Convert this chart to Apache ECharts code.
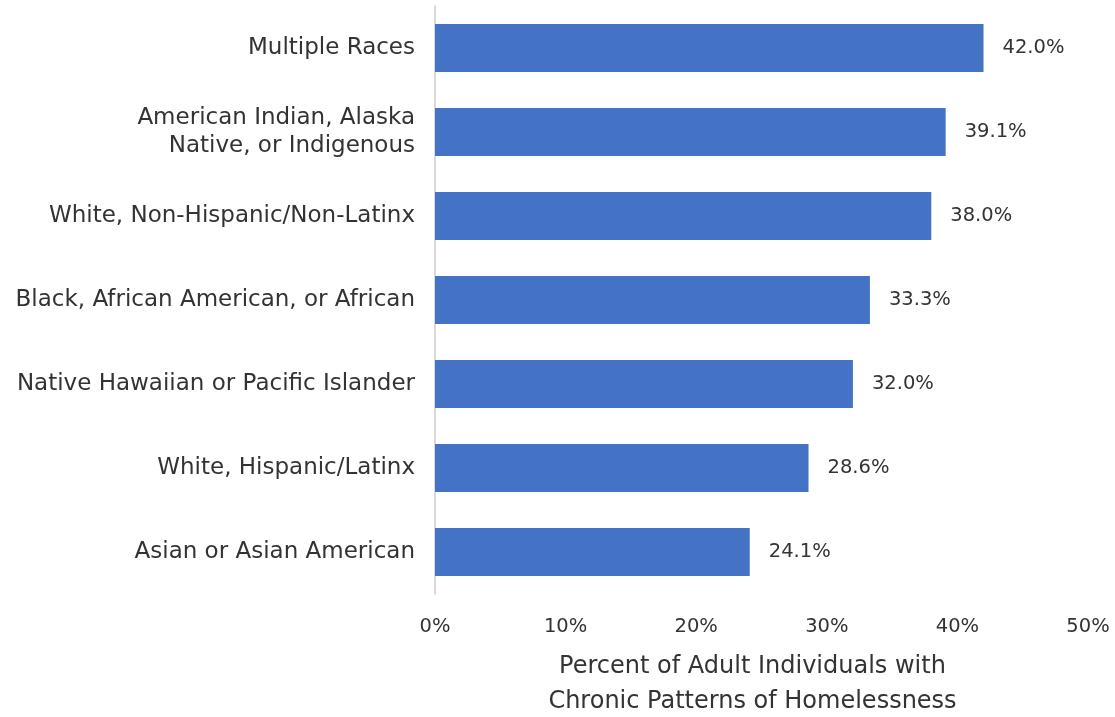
<!DOCTYPE html>
<html>
<head>
<meta charset="utf-8">
<script src="https://cdn.jsdelivr.net/npm/echarts@6/dist/echarts.min.js"></script>
<style>
  html, body { margin: 0; padding: 0; background: #fff; }
  #chart { width: 1115px; height: 717px; }
</style>
</head>
<body>
<div id="chart"></div>
<script>
// groups listed bottom to top (category axis starts at the bottom)
const categories = [
  'Asian or Asian American',
  'White, Hispanic/Latinx',
  'Native Hawaiian or Pacific Islander',
  'Black, African American, or African',
  'White, Non-Hispanic/Non-Latinx',
  'American Indian, Alaska\nNative, or Indigenous',
  'Multiple Races'
];
const values = [24.1, 28.6, 32.0, 33.3, 38.0, 39.1, 42.0];
const axisTitle = 'Percent of Adult Individuals with\nChronic Patterns of Homelessness';

const font = 'DejaVu Sans';
const textColor = '#333333';

let chart = echarts.init(document.getElementById('chart'));
chart.setOption({
  animation: false,
  grid: {
    left: 435, right: 27, top: 6, bottom: 123,
    containLabel: false,
    outerBoundsMode: 'none'
  },
  xAxis: {
    type: 'value',
    min: 0,
    max: 50,
    interval: 10,
    axisLine: { show: false },
    axisTick: { show: false },
    splitLine: { show: false },
    axisLabel: {
      formatter: '{value}%',
      color: textColor,
      fontFamily: font,
      fontSize: 19.5,
      margin: 23
    },
    name: axisTitle,
    nameLocation: 'middle',
    nameGap: 55,
    nameTextStyle: {
      color: textColor,
      fontFamily: font,
      fontSize: 24,
      lineHeight: 35,
      verticalAlign: 'top',
      padding: [0, 18, 0, 0]
    }
  },
  yAxis: {
    type: 'category',
    data: categories,
    axisLine: { show: true, lineStyle: { color: '#d9d9d9', width: 2 } },
    axisTick: { show: false },
    axisLabel: {
      color: textColor,
      fontFamily: font,
      fontSize: 23,
      lineHeight: 28,
      margin: 20,
      align: 'right'
    }
  },
  series: [{
    type: 'bar',
    data: values,
    barCategoryGap: '43%',
    itemStyle: { color: '#4472c4' },
    label: {
      show: true,
      position: 'right',
      distance: 19,
      formatter: p => p.value.toFixed(1) + '%',
      color: textColor,
      fontFamily: font,
      fontSize: 19.5
    }
  }]
});
</script>
</body>
</html>
